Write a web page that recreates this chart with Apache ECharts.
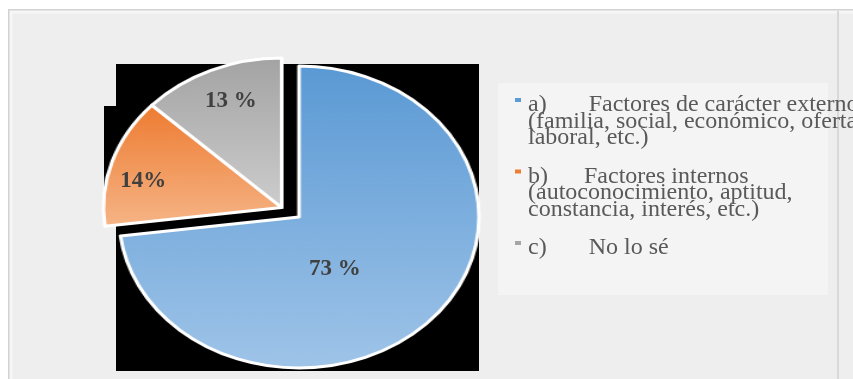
<!DOCTYPE html>
<html>
<head>
<meta charset="utf-8">
<script src="https://cdn.jsdelivr.net/npm/echarts@6/dist/echarts.min.js"></script>
<style>
  html, body { margin: 0; padding: 0; background: #ffffff; }
  .layer { position: absolute; left: 0; top: 0; width: 853px; height: 379px; }
  #pie { transform: scaleX(1.192); transform-origin: 299px 0; }
</style>
</head>
<body>
<div id="bg" class="layer"></div>
<div id="pie" class="layer"></div>
<div id="fg" class="layer"></div>
<script>
// ---- data ----
const categories = [
  'a) Factores de carácter externo (familia, social, económico, oferta laboral, etc.)',
  'b) Factores internos (autoconocimiento, aptitud, constancia, interés, etc.)',
  'c) No lo sé'
];
const legendText = [
  'a)       Factores de carácter externo\n(familia, social, económico, oferta\nlaboral, etc.)',
  'b)      Factores internos\n(autoconocimiento, aptitud,\nconstancia, interés, etc.)',
  'c)       No lo sé\n \n '
];
const values = [73, 14, 13];
const valueLabels = ['73 %', '14%', '13 %'];

// ---- styles ----
const topColors = ['#5a99d4', '#ed7b30', '#a3a3a3'];
const bottomColors = ['#9fc4e8', '#f6b587', '#cdcdcd'];
const legendColors = ['#5b9bd5', '#ed7d31', '#a5a5a5'];
const labelShift = [[-23, 0], [-81, -12], [-37, -44]];

function grad(i) {
  return { type: 'linear', x: 0, y: 0, x2: 0, y2: 1,
    colorStops: [{ offset: 0, color: topColors[i] }, { offset: 1, color: bottomColors[i] }] };
}

// ---- background layer ----
const bg = echarts.init(document.getElementById('bg'), null, { renderer: 'canvas' });
bg.setOption({
  backgroundColor: '#ffffff',
  graphic: [
    { type: 'rect', shape: { x: 9, y: 10, width: 860, height: 380 },
      style: { fill: '#eeeeee', stroke: '#d2d2d2', lineWidth: 2 } },
    { type: 'rect', shape: { x: 11, y: 12, width: 860, height: 380 },
      style: { fill: 'none', stroke: '#f6f6f6', lineWidth: 3 } },
    { type: 'line', shape: { x1: 838, y1: 11, x2: 838, y2: 379 },
      style: { stroke: '#d8d8d8', lineWidth: 2 } },
    { type: 'rect', shape: { x: 498, y: 83, width: 330, height: 212 },
      style: { fill: '#f4f4f4' } },
    { type: 'rect', shape: { x: 116, y: 64, width: 363, height: 307 },
      style: { fill: '#000000' } },
    { type: 'rect', shape: { x: 104, y: 106, width: 183, height: 119 },
      style: { fill: '#000000' } }
  ]
});

// ---- pie layer (stretched horizontally) ----
const pie = echarts.init(document.getElementById('pie'), null, { renderer: 'canvas' });
function pieData(visibleIdx) {
  return values.map((v, i) => ({
    name: categories[i],
    value: v,
    itemStyle: visibleIdx.includes(i)
      ? { color: grad(i), borderColor: '#ffffff', borderWidth: 3 }
      : { color: 'rgba(0,0,0,0)', borderWidth: 0 }
  }));
}
pie.setOption({
  animation: false,
  series: [
    { type: 'pie', center: [299, 217], radius: 151, startAngle: 90, clockwise: true,
      silent: true, label: { show: false }, labelLine: { show: false },
      data: pieData([0]) },
    { type: 'pie', center: [284.5, 207.5], radius: 149.5, startAngle: 90, clockwise: true,
      silent: true, label: { show: false }, labelLine: { show: false },
      data: pieData([1, 2]) }
  ]
});

// ---- foreground layer: labels + legend ----
const fg = echarts.init(document.getElementById('fg'), null, { renderer: 'canvas' });
fg.setOption({
  animation: false,
  legend: {
    orient: 'vertical', left: 515, top: 93, padding: 0,
    itemWidth: 8, itemHeight: 51, itemGap: 14.5,
    selectedMode: false,
    icon: 'path://M0,0h0.01M0,2h6v4h-6zM8,51h0.01',
    data: categories.map((c, i) => ({ name: c, itemStyle: { color: legendColors[i] } })),
    formatter: name => legendText[categories.indexOf(name)],
    textStyle: { fontFamily: 'Liberation Serif', fontSize: 24, lineHeight: 16.5, color: '#595959' }
  },
  series: [
    { type: 'pie', center: [299, 217], radius: 151, startAngle: 90, clockwise: true,
      silent: true, avoidLabelOverlap: false,
      itemStyle: { color: 'rgba(0,0,0,0)', borderWidth: 0 },
      label: { show: true, position: 'inside',
        formatter: p => valueLabels[p.dataIndex],
        fontFamily: 'Liberation Serif', fontWeight: 'bold', fontSize: 23, color: '#404040' },
      labelLine: { show: false },
      labelLayout: p => ({ dx: labelShift[p.dataIndex][0], dy: labelShift[p.dataIndex][1] }),
      data: values.map((v, i) => ({ name: categories[i], value: v }))
    }
  ]
});
</script>
</body>
</html>
